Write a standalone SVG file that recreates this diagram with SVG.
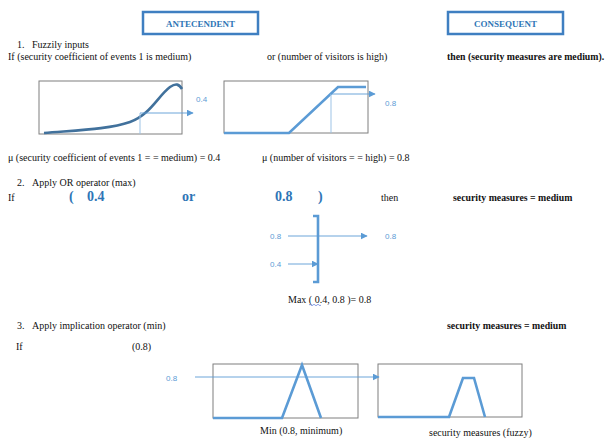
<svg xmlns="http://www.w3.org/2000/svg" width="606" height="439" viewBox="0 0 606 439">
<style>
text{font-family:"Liberation Serif","Times New Roman",serif;font-size:10px;fill:#111}
.b{font-weight:bold;font-size:9.8px}
.hd{font-weight:bold;fill:#2e75b6;font-size:9px;text-anchor:middle}
.hbox{fill:#fff;stroke:#3f7fc1;stroke-width:2.5}
.frame{fill:none;stroke:#7f7f7f;stroke-width:1}
.mf{fill:none;stroke:#5b9bd5;stroke-width:2.6;stroke-linejoin:miter}
.thin{fill:none;stroke:#5b9bd5;stroke-width:0.9}
.light{fill:none;stroke:#9dc3e6;stroke-width:1}
.bl{fill:#5b9bd5;font-family:"Liberation Sans",Arial,sans-serif;font-size:8px}
.big{fill:#2e75b6;font-weight:bold;font-size:14px}
</style>
<defs>
<marker id="ah" viewBox="0 0 10 10" refX="9" refY="5" markerWidth="7" markerHeight="7" markerUnits="userSpaceOnUse" orient="auto"><path d="M0,0L10,5L0,10z" fill="#5b9bd5"/></marker>
</defs>

<g id="antecedent">
<rect class="hbox" x="143" y="12" width="115" height="22"/>
<text class="hd" x="200.5" y="26.5">ANTECENDENT</text>
</g>
<g id="consequent">
<rect class="hbox" x="448" y="12" width="115" height="22"/>
<text class="hd" x="505.5" y="26.5">CONSEQUENT</text>
</g>

<g id="step1-text">
<text x="17" y="48">1.</text>
<text x="32" y="48">Fuzzily inputs</text>
<text x="8" y="60">If (security coefficient of events 1 is medium)</text>
<text x="267" y="60">or (number of visitors is high)</text>
<text class="b" x="447" y="60">then (security measures are medium).</text>
</g>

<g id="graph1">
<rect class="frame" x="39" y="81" width="143" height="53"/>
<path d="M44,133 C80,130 110,129 130,122 C150,115 158,96 170,87 C176,83 179,84 182,89" fill="none" stroke="#41719c" stroke-width="2.6"/>
<line class="light" x1="140" y1="113" x2="140" y2="134"/>
<line class="thin" x1="140" y1="113" x2="193" y2="113" stroke="#9dc3e6" marker-end="url(#ah)"/>
<text class="bl" x="196" y="102">0.4</text>
</g>

<g id="graph2">
<rect class="frame" x="224" y="81" width="144" height="52"/>
<path class="mf" d="M224,133 L289,133 L338,87 L366,87"/>
<line class="light" x1="331" y1="94" x2="331" y2="133"/>
<line class="thin" x1="331" y1="94" x2="375" y2="94" stroke="#9dc3e6" marker-end="url(#ah)"/>
<text class="bl" x="385" y="106">0.8</text>
</g>

<g id="mu-text">
<text x="8" y="161">μ (security coefficient of events 1 = = medium) = 0.4</text>
<text x="262" y="161">μ (number of visitors = = high) = 0.8</text>
</g>

<g id="step2-text">
<text x="17" y="186">2.</text>
<text x="32" y="186">Apply OR operator (max)</text>
<text x="8" y="201">If</text>
<text class="big" x="69" y="201">(</text>
<text class="big" x="87" y="201">0.4</text>
<text class="big" x="182" y="201">or</text>
<text class="big" x="275" y="201">0.8</text>
<text class="big" x="318" y="201">)</text>
<text x="381" y="201">then</text>
<text class="b" x="453" y="201">security measures = medium</text>
</g>

<g id="max-operator">
<path d="M313,216 L318,216 L318,282 L313,282" fill="none" stroke="#5b9bd5" stroke-width="2.6"/>
<text class="bl" x="270" y="239">0.8</text>
<text class="bl" x="270" y="267">0.4</text>
<text class="bl" x="385" y="239">0.8</text>
<text x="288" y="303">Max ( 0.4, 0.8 )= 0.8</text>
<path d="M309,305 q1,-1.5 2,0 t2,0 t2,0 t2,0 t2,0 t2,0" fill="none" stroke="#3f5fd0" stroke-width="0.6"/>
</g>

<g id="step3-text">
<text x="17" y="329">3.</text>
<text x="32" y="329">Apply implication operator (min)</text>
<text class="b" x="447" y="329">security measures = medium</text>
<text x="16" y="350">If</text>
<text x="132" y="350">(0.8)</text>
</g>

<g id="graph3">
<rect class="frame" x="213" y="364" width="145" height="54"/>
<path class="mf" d="M213,418 L282,418 L302,365 L321,418"/>
<text class="bl" x="166" y="381">0.8</text>
<text x="260" y="434">Min (0.8, minimum)</text>
</g>

<g id="graph4">
<rect class="frame" x="378" y="364" width="144" height="53"/>
<path class="mf" d="M378,417 L449,417 L463,378 L474,378 L485,417"/>
<text x="429" y="436">security measures (fuzzy)</text>
</g>

<g id="connectors">
<line class="thin" x1="288" y1="236" x2="367" y2="236" marker-end="url(#ah)"/>
<line class="thin" x1="288" y1="264" x2="318" y2="264" marker-end="url(#ah)"/>
<line class="thin" x1="195" y1="377" x2="379" y2="377" marker-end="url(#ah)"/>
</g>
</svg>
